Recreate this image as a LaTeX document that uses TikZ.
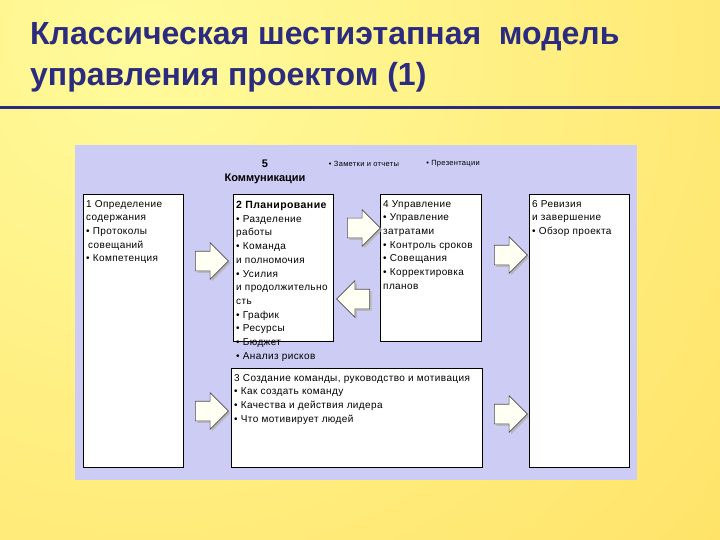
\documentclass[tikz,border=0pt]{standalone}
\usepackage{fontspec}
\setmainfont{Liberation Sans}
\newfontfamily\boxfont[LetterSpace=4]{Liberation Sans}
\usetikzlibrary{positioning,shapes.arrows,shadows}

\definecolor{titleblue}{HTML}{2B2B7F}
\definecolor{bglight}{HTML}{FFFB9C}
\definecolor{bgdark}{HTML}{FFD244}
\definecolor{panelcol}{HTML}{CCCCF5}
\definecolor{arrowfill}{HTML}{FFFFF4}

\begin{document}
\begin{tikzpicture}[x=1pt, y=-1pt,
    box/.style={draw=black, fill=white, line width=0.7pt, inner sep=0pt, anchor=north west},
    boxtext/.style={anchor=north west, inner sep=0pt, align=left,
      font=\boxfont\fontsize{10}{13.7}\selectfont},
    small/.style={inner sep=0pt, font=\boxfont\fontsize{7.5}{8}\selectfont},
    bigarrow/.style={single arrow, draw=gray!60!black, fill=arrowfill, line width=0.6pt,
      minimum height=33pt, inner xsep=0pt, inner ysep=9.5pt, single arrow head extend=8.5pt,
      drop shadow={shadow xshift=2pt, shadow yshift=-2pt, fill=gray!60, opacity=0.8}}]

\useasboundingbox (0,0) rectangle (720,540);

% Background
\begin{scope}
  \clip (0,0) rectangle (720,540);
  \shade[inner color=bglight, outer color=bgdark] (150,40) circle (1300pt);
\end{scope}

% Title
\node[anchor=west, align=left, inner sep=0pt, titleblue,
  font=\fontsize{32}{41}\selectfont\bfseries] (title) at (30,57)
  {Классическая шестиэтапная\ \ модель\\управления проектом (1)};
\draw[titleblue, line width=3pt] (0,108) -- (720,108);

% Panel
\fill[panelcol] (75,145) rectangle (637,480);

% Boxes
\node[box, minimum width=100pt, minimum height=273pt] (b1) at (83,194) {};
\node[box, minimum width=100pt, minimum height=147pt] (b2) at (233,194) {};
\node[box, minimum width=101pt, minimum height=147pt] (b4) at (380,194) {};
\node[box, minimum width=100pt, minimum height=273pt] (b6) at (529,194) {};
\node[box, minimum width=251pt, minimum height=99pt]  (b3) at (231,368) {};

% Box texts
\node[boxtext] (t1) at (86,200)
  {1 Определение\\содержания\\• Протоколы\\\hspace{2pt}совещаний\\• Компетенция};
\node[boxtext] (t2) at (236,201)
  {\textbf{\fontsize{10.5}{13.7}\selectfont 2 Планирование}\\• Разделение\\работы\\• Команда\\и полномочия\\• Усилия\\и продолжительно\\сть\\• График\\• Ресурсы\\• Бюджет\\• Анализ рисков};
\node[boxtext] (t4) at (383,200)
  {4 Управление\\• Управление\\затратами\\• Контроль сроков\\• Совещания\\• Корректировка\\планов};
\node[boxtext] (t6) at (532,200)
  {6 Ревизия\\и завершение\\• Обзор проекта};
\node[boxtext] (t3) at (234,374)
  {3 Создание команды, руководство и мотивация\\• Как создать команду\\• Качества и действия лидера\\• Что мотивирует людей};

% Communications
\node[align=center, inner sep=0pt, font=\fontsize{11}{14}\selectfont\bfseries] (comm) at (265,172)
  {5\\Коммуникации};
\node[small] (notes) at (364,164) {• Заметки и отчеты};
\node[small] (pres) at (453,164) {• Презентации};

% Block arrows
\node[bigarrow] (a12) at (207,261) {};
\node[bigarrow] (a24) at (359,228) {};
\node[bigarrow, shape border rotate=180] (a42) at (358,299) {};
\node[bigarrow] (a13) at (207,411) {};
\node[bigarrow] (a46) at (506,255) {};
\node[bigarrow] (a36) at (506,414) {};

\end{tikzpicture}
\end{document}
